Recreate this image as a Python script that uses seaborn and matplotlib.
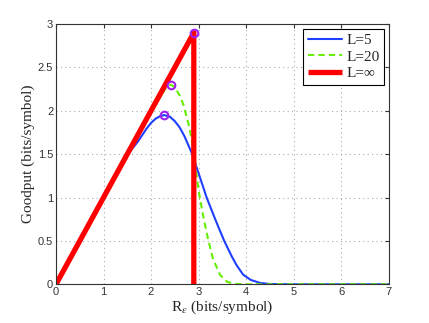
import numpy as np
import pandas as pd
import seaborn as sns
import matplotlib
matplotlib.use("Agg")
import matplotlib.pyplot as plt
from matplotlib.ticker import FormatStrFormatter

# L=5 curve
x_l5 = [0, 0.5, 1.0, 1.5, 1.73, 1.9, 2.0, 2.1, 2.2, 2.28, 2.4, 2.5, 2.6, 2.7,
        2.86, 3.0, 3.17, 3.35, 3.54, 3.7, 3.8, 3.94, 4.1, 4.3, 4.5, 4.7, 5.0, 7.0]
y_l5 = [0, 0.5, 1.0, 1.49, 1.65, 1.79, 1.86, 1.91, 1.94, 1.95, 1.93, 1.88, 1.81, 1.71,
        1.51, 1.28, 1.0, 0.75, 0.5, 0.32, 0.22, 0.11, 0.05, 0.015, 0.004, 0.001, 0, 0]

# L=20 curve
x_l20 = [0, 1.0, 2.0, 2.2, 2.3, 2.36, 2.42, 2.5, 2.61, 2.68, 2.75, 2.81, 2.88,
         2.96, 3.0, 3.1, 3.2, 3.3, 3.45, 3.6, 3.75, 4.0, 7.0]
y_l20 = [0, 1.0, 1.99, 2.17, 2.25, 2.28, 2.30, 2.27, 2.17, 2.07, 1.93, 1.80, 1.58,
         1.25, 1.08, 0.78, 0.52, 0.30, 0.11, 0.03, 0.005, 0, 0]

# L=inf
x_inf = [0, 2.9, 2.9]
y_inf = [0, 2.9, 0]

# peaks
peak_x = [2.28, 2.43, 2.9]
peak_y = [1.95, 2.30, 2.9]

sns.set_style("white")
plt.rcParams['font.family'] = ['Liberation Sans', 'DejaVu Sans']
plt.rcParams['mathtext.fontset'] = 'stix'

fig = plt.figure(figsize=(4.29, 3.23), dpi=100)
ax = fig.add_axes([0.1305, 0.1198, 0.7755, 0.8059])

sns.lineplot(x=x_l5, y=y_l5, ax=ax, color="#1f3fff", linewidth=1.5,
             estimator=None, sort=False, label="L=5")
sns.lineplot(x=x_l20, y=y_l20, ax=ax, color="#66ee00", linewidth=1.5,
             estimator=None, sort=False, label="L=20", dashes=False)
ax.lines[-1].set_dashes((3, 2))
sns.lineplot(x=x_inf, y=y_inf, ax=ax, color="#ff0000", linewidth=3.8,
             estimator=None, sort=False, label="L=\u221e")
ax.lines[-1].set_solid_capstyle("butt")
ax.plot(peak_x, peak_y, "o", mfc="none", mec="#a020f0", ms=5.5, mew=1.5, zorder=5)

ax.set_xlim(0, 7)
ax.set_ylim(0, 3)
ax.set_xticks(range(0, 8))
ax.set_yticks([0, 0.5, 1, 1.5, 2, 2.5, 3])
ax.yaxis.set_major_formatter(FormatStrFormatter('%g'))
ax.tick_params(direction="in", top=True, right=True, labelsize=8, length=3,
               width=0.8, pad=2, colors="#333333")
ax.grid(True, linestyle=(0, (1, 3)), color="#aaaaaa", linewidth=0.8)
for s in ax.spines.values():
    s.set_color("#333333")
    s.set_linewidth(0.8)

serif = ['Liberation Serif', 'DejaVu Serif']
ax.set_xlabel(r"R$_{\varepsilon}$ (bits/symbol)", fontsize=11, family=serif, labelpad=1)
ax.set_ylabel("Goodput (bits/symbol)", fontsize=11, family=serif, labelpad=2)

leg = ax.legend(loc="upper right", prop={'family': serif, 'size': 11},
                fancybox=False, framealpha=1, edgecolor="black",
                handlelength=2.2, borderpad=0.3, labelspacing=0.2,
                handletextpad=0.3, borderaxespad=0.3)
leg.get_frame().set_linewidth(0.8)

fig.savefig("out.png", dpi=100)
